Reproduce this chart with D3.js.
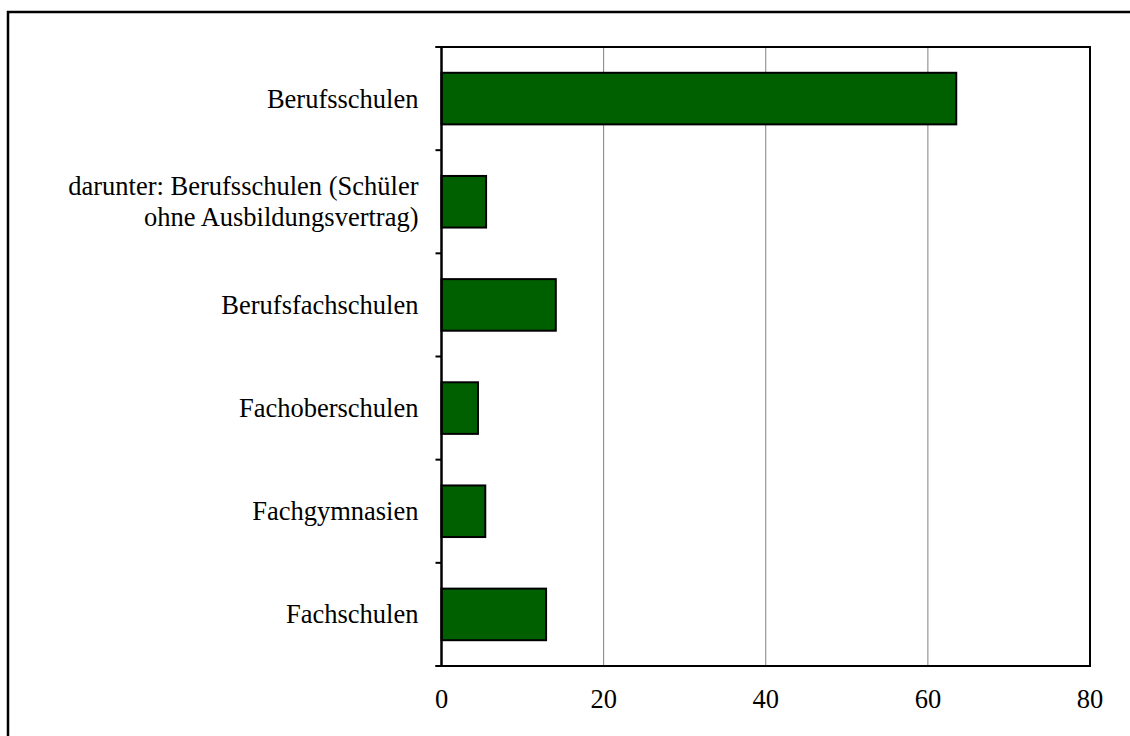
<!DOCTYPE html>
<html>
<head>
<meta charset="utf-8">
<script src="https://cdn.jsdelivr.net/npm/d3@7"></script>
<style>
  body { margin: 0; background: #fff; }
  svg { display: block; font-family: "Liberation Serif", "Times New Roman", serif; }
</style>
</head>
<body>
<div id="chart"></div>
<script>
const categories = [
  "Berufsschulen",
  "darunter: Berufsschulen (Schüler|ohne Ausbildungsvertrag)",
  "Berufsfachschulen",
  "Fachoberschulen",
  "Fachgymnasien",
  "Fachschulen"
];
const values = [63.5, 5.5, 14.1, 4.5, 5.4, 12.9];
const xTicks = [0, 20, 40, 60, 80];

const width = 1130, height = 736;
const margin = {top: 47, right: 40, bottom: 70, left: 441.5};
const fontSize = 26.5;

const svg = d3.select("#chart").append("svg")
  .attr("width", width)
  .attr("height", height);

// outer frame (right and bottom sides run off the page)
svg.append("path")
  .attr("d", "M8,760 V12 H1140")
  .attr("fill", "none")
  .attr("stroke", "#000")
  .attr("stroke-width", 2.5);

const plotW = 1090 - margin.left;
const plotH = 666 - margin.top;

const g = svg.append("g")
  .attr("transform", `translate(${margin.left},${margin.top})`);

const x = d3.scaleLinear().domain([0, 80]).range([0, plotW]);
const y = d3.scaleBand().domain(categories).range([0, plotH]).paddingInner(0.5).paddingOuter(0.25);

// gridlines
g.selectAll(".grid")
  .data(xTicks.filter(t => t > 0 && t < 80))
  .join("line")
  .attr("class", "grid")
  .attr("x1", d => x(d)).attr("x2", d => x(d))
  .attr("y1", 0).attr("y2", plotH)
  .attr("stroke", "#808080")
  .attr("stroke-width", 1);

// plot box top/right/bottom
g.append("path")
  .attr("d", `M${-6},0 H${plotW} V${plotH} H${-6}`)
  .attr("fill", "none")
  .attr("stroke", "#000")
  .attr("stroke-width", 2);

// bars
g.selectAll(".bar")
  .data(values)
  .join("rect")
  .attr("class", "bar")
  .attr("x", x(0))
  .attr("y", (d, i) => y(categories[i]))
  .attr("width", d => x(d) - x(0))
  .attr("height", y.bandwidth())
  .attr("fill", "#006000")
  .attr("stroke", "#000")
  .attr("stroke-width", 2);

// left axis line and ticks at band boundaries
g.append("line")
  .attr("x1", 0).attr("x2", 0)
  .attr("y1", 0).attr("y2", plotH)
  .attr("stroke", "#000")
  .attr("stroke-width", 2.5);

const step = plotH / categories.length;
g.selectAll(".ytick")
  .data(d3.range(categories.length + 1))
  .join("line")
  .attr("class", "ytick")
  .attr("x1", -6).attr("x2", 0)
  .attr("y1", d => d * step).attr("y2", d => d * step)
  .attr("stroke", "#000")
  .attr("stroke-width", 2);

// category labels
const labels = g.selectAll(".ylabel")
  .data(categories)
  .join("text")
  .attr("class", "ylabel")
  .attr("text-anchor", "end")
  .attr("font-size", fontSize)
  .attr("fill", "#000");

labels.each(function(d) {
  const lines = d.split("|");
  const cy = y(d) + y.bandwidth() / 2;
  const t = d3.select(this);
  lines.forEach((ln, k) => {
    t.append("tspan")
      .attr("x", -23)
      .attr("y", cy + 9 + (k - (lines.length - 1) / 2) * 31)
      .text(ln);
  });
});

// x tick labels
g.selectAll(".xlabel")
  .data(xTicks)
  .join("text")
  .attr("class", "xlabel")
  .attr("x", d => x(d))
  .attr("y", plotH + 42)
  .attr("text-anchor", "middle")
  .attr("font-size", fontSize)
  .attr("fill", "#000")
  .text(d => d);
</script>
</body>
</html>
